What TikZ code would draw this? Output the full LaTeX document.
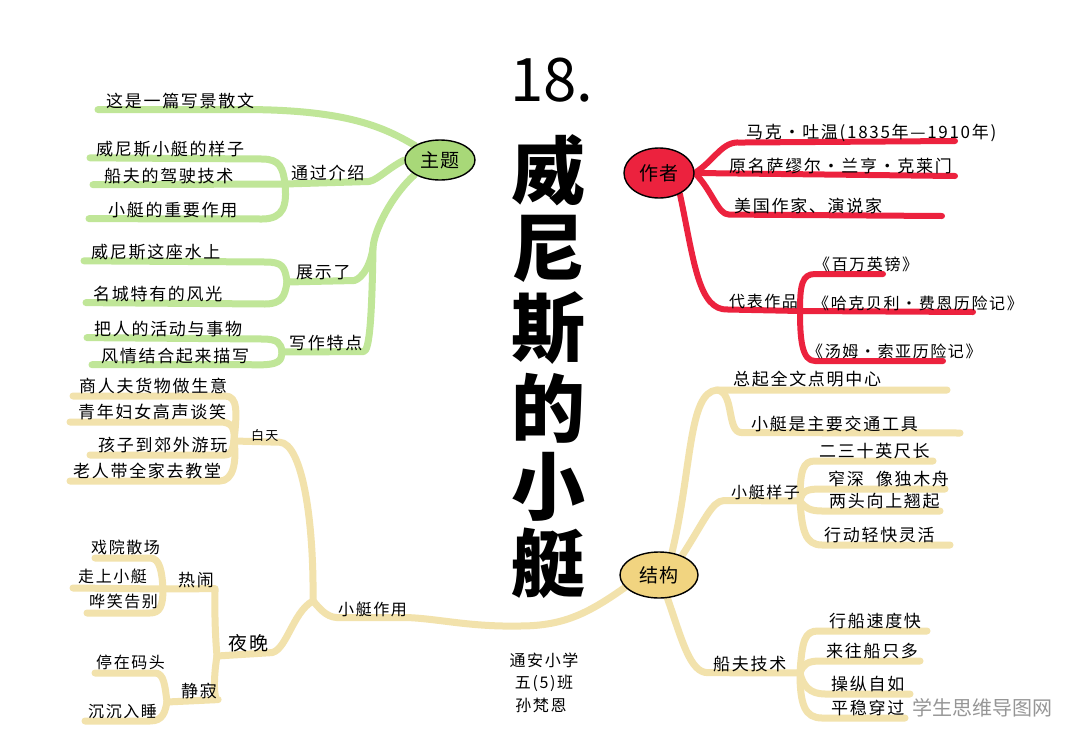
\documentclass[tikz,border=0pt]{standalone}
\usepackage{fontspec}
\setmainfont{Noto Sans CJK SC}
\newfontfamily\vbHand{Noto Sans CJK SC}[LetterSpace=10]
\usetikzlibrary{shapes.geometric,backgrounds}
\definecolor{vbGreenLine}{RGB}{192,230,152}
\definecolor{vbGreenFill}{RGB}{168,216,120}
\definecolor{vbRed}{RGB}{236,34,62}
\definecolor{vbCream}{RGB}{242,226,172}
\definecolor{vbYellowFill}{RGB}{241,212,128}
\definecolor{vbGray}{RGB}{150,150,150}
\newcommand{\vbLeaf}{\vbHand\fontsize{17}{20}\selectfont}
\newcommand{\vbMid}{\vbHand\fontsize{16}{18}\selectfont}
\newcommand{\vbSmall}{\vbHand\fontsize{13}{15}\selectfont}
\newcommand{\vbBig}{\vbHand\fontsize{19}{22}\selectfont}
\newcommand{\vbTitle}{\bfseries\fontsize{74}{80}\selectfont}

\tikzset{
  vbleaf/.style={anchor=base west, inner sep=1pt, font=\vbLeaf},
  vbhub/.style={ellipse, draw=black, line width=1.4pt, inner sep=0pt, font=\vbBig},
  vbbranch/.style={line width=7pt, line cap=round, line join=round},
  vbgreen/.style={vbbranch, draw=vbGreenLine},
  vbred/.style={vbbranch, draw=vbRed, line width=6pt},
  vbcream/.style={vbbranch, draw=vbCream},
}

\begin{document}
\begin{tikzpicture}[x=1pt,y=-1pt]
\useasboundingbox (0,0) rectangle (1080,745);
\node[font=\fontsize{60}{64}\selectfont, inner sep=0pt] (num) at (552,80) {18.};
\node[font=\vbTitle, inner sep=0pt] (c1) at (548,170) {威};
\node[font=\vbTitle, inner sep=0pt] (c2) at (548,249) {尼};
\node[font=\vbTitle, inner sep=0pt] (c3) at (548,328) {斯};
\node[font=\vbTitle, inner sep=0pt] (c4) at (548,408) {的};
\node[font=\vbTitle, inner sep=0pt] (c5) at (548,487) {小};
\node[font=\vbTitle, inner sep=0pt] (c6) at (548,563) {艇};
\node[font=\vbMid, inner sep=0pt] (school) at (544,660) {通安小学};
\node[font=\vbMid, inner sep=0pt] (class) at (544,683) {五(5)班};
\node[font=\vbMid, inner sep=0pt] (name) at (541,705) {孙梵恩};
\node[anchor=base west, inner sep=0pt, text=vbGray, font=\fontsize{20}{22}\selectfont] (mark) at (912,715) {学生思维导图网};

\node[vbhub, fill=vbGreenFill, minimum width=70pt, minimum height=40pt] (theme) at (440,160) {主题};
\node[vbleaf] (t1) at (105,107) {这是一篇写景散文};
\node[vbleaf] (tz) at (290,179) {通过介绍};
\node[vbleaf] (tz1) at (95,155) {威尼斯小艇的样子};
\node[vbleaf] (tz2) at (103,182) {船夫的驾驶技术};
\node[vbleaf] (tz3) at (107,216) {小艇的重要作用};
\node[vbleaf] (zs) at (295,278) {展示了};
\node[vbleaf] (zs1) at (90,258) {威尼斯这座水上};
\node[vbleaf] (zs2) at (92,300) {名城特有的风光};
\node[vbleaf] (xz) at (288,349) {写作特点};
\node[vbleaf] (xz1) at (93,335) {把人的活动与事物};
\node[vbleaf] (xz2) at (100,362) {风情结合起来描写};

\node[vbhub, fill=vbRed, minimum width=70pt, minimum height=50pt] (author) at (659,173) {作者};
\node[vbleaf] (a1) at (745,138) {马克·吐温(1835年—1910年)};
\node[vbleaf] (a2) at (728,172) {原名萨缪尔·兰亨·克莱门};
\node[vbleaf] (a3) at (733,212) {美国作家、演说家};
\node[vbleaf, font=\vbMid] (rep) at (728,307) {代表作品};
\node[vbleaf, font=\vbMid] (w1) at (813,270) {《百万英镑》};
\node[vbleaf, font=\vbMid] (w2) at (812,309) {《哈克贝利·费恩历险记》};
\node[vbleaf, font=\vbMid] (w3) at (806,357) {《汤姆·索亚历险记》};

\node[vbhub, fill=vbYellowFill, minimum width=78pt, minimum height=46pt] (struct) at (659,575) {结构};
\node[vbleaf] (s1) at (732,385) {总起全文点明中心};
\node[vbleaf] (s2) at (750,430) {小艇是主要交通工具};
\node[vbleaf, font=\vbMid] (sy) at (730,498) {小艇样子};
\node[vbleaf] (sy1) at (818,457) {二三十英尺长};
\node[vbleaf] (sy2) at (827,485) {窄深\hspace{12pt}像独木舟};
\node[vbleaf] (sy3) at (828,507) {两头向上翘起};
\node[vbleaf] (sy4) at (823,541) {行动轻快灵活};
\node[vbleaf] (cf) at (712,670) {船夫技术};
\node[vbleaf] (cf1) at (828,627) {行船速度快};
\node[vbleaf] (cf2) at (825,657) {来往船只多};
\node[vbleaf] (cf3) at (830,690) {操纵自如};
\node[vbleaf] (cf4) at (830,714) {平稳穿过};

\node[vbleaf, font=\vbMid] (role) at (337,615) {小艇作用};
\node[vbleaf, font=\vbSmall] (day) at (250,440) {白天};
\node[vbleaf] (d1) at (78,392) {商人夫货物做生意};
\node[vbleaf] (d2) at (77,418) {青年妇女高声谈笑};
\node[vbleaf] (d3) at (97,451) {孩子到郊外游玩};
\node[vbleaf] (d4) at (72,477) {老人带全家去教堂};
\node[vbleaf, font=\vbBig] (night) at (227,650) {夜晚};
\node[vbleaf] (busy) at (177,586) {热闹};
\node[vbleaf, font=\vbMid] (b1) at (90,553) {戏院散场};
\node[vbleaf, font=\vbMid] (b2) at (77,582) {走上小艇};
\node[vbleaf, font=\vbMid] (b3) at (88,607) {哗笑告别};
\node[vbleaf] (quiet) at (180,697) {静寂};
\node[vbleaf, font=\vbMid] (q1) at (95,668) {停在码头};
\node[vbleaf, font=\vbMid] (q2) at (87,717) {沉沉入睡};

\coordinate (tzJ) at (285,184);
\coordinate (zsJ) at (287,282);
\coordinate (xzJ) at (282,352);
\coordinate (trunkA) at (373,248);
\coordinate (repJ) at (800,311);
\coordinate (s1J) at (717,390);
\coordinate (syJ) at (800,501);
\coordinate (cfJ) at (800,673);
\coordinate (roleJ) at (313,601);
\coordinate (dayJ) at (234,441);
\coordinate (nightJ) at (217,656);
\coordinate (busyJ) at (163,589);
\coordinate (quietJ) at (167,702);

\begin{scope}[on background layer]
\fill[white] (0,0) rectangle (1080,745);
\draw[vbgreen] (theme.north west) .. controls (385,128) and (350,111) .. (t1.south east) -- ([xshift=-7pt]t1.south west);
\draw[vbgreen] (theme.west) .. controls (385,170) and (375,183) .. (tz.south east) -- (tzJ);
\draw[vbgreen] (tzJ) .. controls (283,168) and (280,159) .. (262,159) -- ([xshift=-5pt]tz1.south west);
\draw[vbgreen] (tzJ) -- ([xshift=-10pt]tz2.south west);
\draw[vbgreen] (tzJ) .. controls (287,205) and (284,219) .. (262,219) -- ([xshift=-18pt]tz3.south west);
\draw[vbgreen] (theme.south west) .. controls (392,195) and (374,230) .. (trunkA) .. controls (372,310) and (370,352) .. (xz.south east) -- (xzJ);
\draw[vbgreen] (trunkA) .. controls (370,270) and (358,282) .. (zs.south east) -- (zsJ);
\draw[vbgreen] (zsJ) .. controls (285,266) and (282,262) .. (265,262) -- ([xshift=-6pt]zs1.south west);
\draw[vbgreen] (zsJ) .. controls (285,296) and (282,304) .. (265,304) -- ([xshift=-6pt]zs2.south west);
\draw[vbgreen] (xzJ) .. controls (281,343) and (278,339) .. (262,339) -- ([xshift=-6pt]xz1.south west);
\draw[vbgreen] (xzJ) .. controls (281,360) and (282,366) .. (xz2.south east) -- ([xshift=-8pt]xz2.south west);

\draw[vbred] (author.east) .. controls (715,160) and (722,141) .. ([xshift=-5pt]a1.south west) -- (955,141);
\draw[vbred] (author.east) -- (955,176);
\draw[vbred] (author.east) .. controls (712,190) and (718,215) .. ([xshift=-4pt]a3.south west) -- (942,216);
\draw[vbred] (author.-45) .. controls (694,260) and (698,311) .. (rep.south west) -- (repJ);
\draw[vbred] (repJ) .. controls (800,285) and (802,274) .. (815,274) -- (883,274);
\draw[vbred] (repJ) -- (973,312);
\draw[vbred] (repJ) .. controls (800,340) and (802,361) .. (815,361) -- (943,361);

\draw[vbcream] (struct.60) .. controls (692,470) and (688,392) .. (s1J) -- (947,390);
\draw[vbcream] (s1J) .. controls (735,392) and (726,433) .. ([xshift=-8pt]s2.south west) -- (960,433);
\draw[vbcream] (struct.40) .. controls (705,520) and (712,501) .. ([xshift=-6pt]sy.south west) -- (syJ);
\draw[vbcream] (syJ) .. controls (800,470) and (803,461) .. (815,461) -- (933,461);
\draw[vbcream] (syJ) .. controls (802,490) and (808,489) .. (822,489) -- (945,489);
\draw[vbcream] (syJ) .. controls (805,508) and (810,511) .. (822,511) -- (940,511);
\draw[vbcream] (syJ) .. controls (802,530) and (805,545) .. (822,545) -- (950,545);
\draw[vbcream] (struct.-70) .. controls (682,640) and (690,673) .. ([xshift=-4pt]cf.south west) -- (cfJ);
\draw[vbcream] (cfJ) .. controls (802,640) and (805,631) .. (818,631) -- (927,631);
\draw[vbcream] (cfJ) .. controls (803,664) and (808,661) .. (820,661) -- (920,661);
\draw[vbcream] (cfJ) .. controls (803,686) and (810,694) .. (825,694) -- (910,694);
\draw[vbcream] (cfJ) .. controls (800,705) and (805,718) .. (822,718) -- (905,718);

\draw[vbcream] (struct.200) .. controls (590,612) and (565,626) .. (520,626) .. controls (470,627) and (440,619) .. (role.south east) -- (role.south west) .. controls (325,617) and (318,606) .. (roleJ);
\draw[vbcream] (roleJ) .. controls (314,520) and (302,443) .. (day.south east) -- (dayJ);
\draw[vbcream] (dayJ) .. controls (237,412) and (238,396) .. (225,396) -- (73,396);
\draw[vbcream] (dayJ) .. controls (235,428) and (232,422) .. (220,422) -- (70,422);
\draw[vbcream] (dayJ) .. controls (233,448) and (232,455) .. (225,455) -- (90,455);
\draw[vbcream] (dayJ) .. controls (237,462) and (233,481) .. (220,481) -- (70,481);
\draw[vbcream] (roleJ) .. controls (292,612) and (286,654) .. (night.south east) -- (nightJ);
\draw[vbcream] (nightJ) .. controls (214,622) and (215,590) .. (busy.south east) -- (busyJ);
\draw[vbcream] (busyJ) .. controls (162,572) and (160,558) .. (150,558) -- (95,558);
\draw[vbcream] (busyJ) -- (73,588);
\draw[vbcream] (busyJ) .. controls (163,606) and (160,613) .. (150,613) -- (87,613);
\draw[vbcream] (nightJ) .. controls (213,680) and (214,702) .. (quiet.south east) -- (quietJ);
\draw[vbcream] (quietJ) .. controls (165,686) and (164,673) .. (155,673) -- (95,673);
\draw[vbcream] (quietJ) .. controls (165,712) and (163,721) .. (150,721) -- (85,721);
\end{scope}
\end{tikzpicture}
\end{document}
